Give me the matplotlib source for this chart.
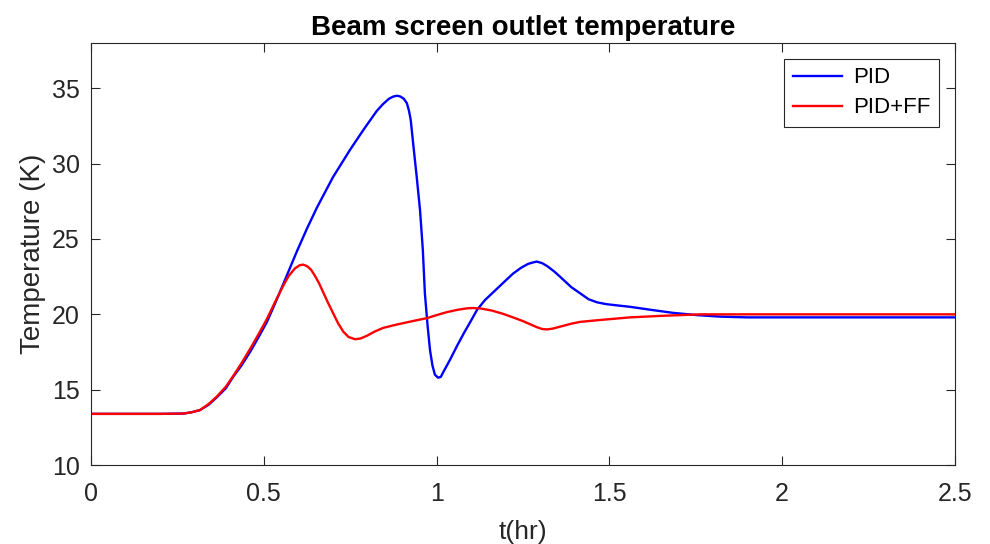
import matplotlib.pyplot as plt
import numpy as np

plt.rcParams['font.family'] = ['Liberation Sans', 'DejaVu Sans']

# PID response
t_pid = [0.0, 0.1, 0.2, 0.267, 0.29, 0.315, 0.34, 0.364, 0.39, 0.411, 0.435,
         0.46, 0.485, 0.509, 0.532, 0.556, 0.576, 0.596, 0.625, 0.654, 0.70,
         0.749, 0.79, 0.827, 0.845, 0.862, 0.875, 0.885, 0.895, 0.905, 0.914,
         0.92, 0.925, 0.932, 0.942, 0.952, 0.96, 0.966, 0.974, 0.981, 0.988,
         0.995, 1.004, 1.012, 1.02, 1.039, 1.06, 1.08, 1.1, 1.117, 1.14, 1.17,
         1.2, 1.221, 1.245, 1.265, 1.28, 1.29, 1.305, 1.32, 1.34, 1.357, 1.39,
         1.415, 1.44, 1.464, 1.49, 1.52, 1.56, 1.62, 1.684, 1.753, 1.82, 1.898,
         2.0, 2.2, 2.5]
T_pid = [13.4, 13.4, 13.4, 13.42, 13.5, 13.65, 14.0, 14.5, 15.1, 15.85, 16.6,
         17.5, 18.5, 19.5, 20.7, 22.0, 23.1, 24.2, 25.7, 27.1, 29.1,
         30.9, 32.3, 33.5, 33.95, 34.3, 34.45, 34.5, 34.45, 34.3, 34.0,
         33.5, 32.9, 31.35, 29.2, 26.9, 24.3, 21.4, 19.2, 17.6, 16.6,
         16.0, 15.8, 15.85, 16.2, 17.0, 17.95, 18.8, 19.6, 20.3, 20.95, 21.6,
         22.25, 22.7, 23.1, 23.35, 23.45, 23.5, 23.4, 23.2, 22.85, 22.5, 21.8,
         21.4, 21.0, 20.8, 20.68, 20.6, 20.5, 20.3, 20.1, 19.95, 19.85, 19.8,
         19.8, 19.8, 19.8]

# PID + feed-forward response
t_ff = [0.0, 0.1, 0.2, 0.267, 0.29, 0.315, 0.34, 0.364, 0.39, 0.411, 0.435,
        0.46, 0.485, 0.509, 0.532, 0.556, 0.572, 0.59, 0.603, 0.613, 0.625,
        0.637, 0.648, 0.66, 0.672, 0.685, 0.70, 0.715, 0.73, 0.745, 0.764,
        0.78, 0.80, 0.82, 0.845, 0.88, 0.91, 0.94, 0.972, 1.0, 1.03, 1.06,
        1.088, 1.105, 1.13, 1.16, 1.19, 1.221, 1.25, 1.27, 1.29, 1.305, 1.319,
        1.335, 1.36, 1.39, 1.415, 1.47, 1.56, 1.65, 1.762, 1.9, 2.2, 2.5]
T_ff = [13.4, 13.4, 13.4, 13.42, 13.5, 13.65, 14.05, 14.55, 15.2, 15.9, 16.75,
        17.7, 18.7, 19.7, 20.8, 21.9, 22.55, 23.05, 23.25, 23.3, 23.2,
        22.95, 22.55, 22.05, 21.45, 20.8, 20.1, 19.4, 18.85, 18.5, 18.35,
        18.4, 18.6, 18.85, 19.1, 19.3, 19.45, 19.6, 19.75, 19.95, 20.15, 20.3,
        20.4, 20.42, 20.38, 20.25, 20.05, 19.8, 19.55, 19.35, 19.15, 19.03, 19.0,
        19.05, 19.2, 19.38, 19.5, 19.62, 19.8, 19.9, 20.0, 20.0, 20.0, 20.0]

fig = plt.figure(figsize=(9.9, 5.44), dpi=100)
ax = fig.add_axes([0.092, 0.145, 0.8726, 0.776])

ax.plot(t_pid, T_pid, color='#0000ff', lw=1.7, label='PID')
ax.plot(t_ff, T_ff, color='#ff0000', lw=1.7, label='PID+FF')

ax.set_xlim(0, 2.5)
ax.set_ylim(10, 38)
ax.set_xticks([0, 0.5, 1, 1.5, 2, 2.5])
ax.set_xticklabels(['0', '0.5', '1', '1.5', '2', '2.5'])
ax.set_yticks([10, 15, 20, 25, 30, 35])
ax.tick_params(direction='in', top=True, right=True, labelsize=18,
               colors='#262626', length=6.5, width=0.8, pad=8)
ax.tick_params(axis='x', pad=12)
for s in ax.spines.values():
    s.set_color('#262626')
    s.set_linewidth(0.8)

ax.set_xlabel('t(hr)', fontsize=19, color='#262626', labelpad=10)
ax.set_ylabel('Temperature (K)', fontsize=20, color='#262626', labelpad=4)
ax.set_title('Beam screen outlet temperature', fontsize=20, fontweight='bold', pad=6)

leg = ax.legend(loc='upper right', fontsize=16, fancybox=False, edgecolor='#262626',
                borderaxespad=0.7, handlelength=2.2, handletextpad=0.5,
                labelspacing=0.4, borderpad=0.4, framealpha=1)
leg.get_frame().set_linewidth(0.8)

fig.savefig('out.png', dpi=100)
